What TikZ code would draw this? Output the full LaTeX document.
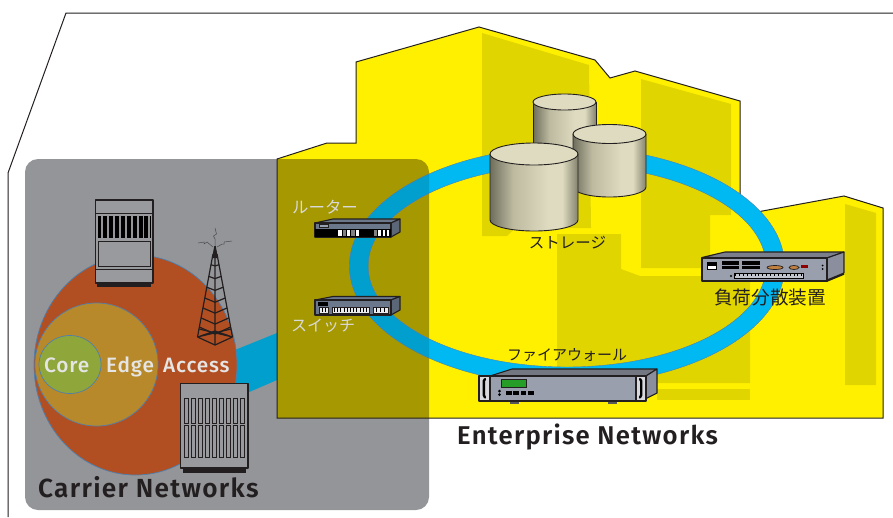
\documentclass[tikz,border=0pt]{standalone}
\usepackage{fontspec}
\newfontfamily\dinbold[LetterSpace=5]{Fira Sans SemiBold}
\newfontfamily\dinmed[LetterSpace=4]{Fira Sans Medium}
\newfontfamily\jp{Noto Sans CJK JP}
\definecolor{ink}{HTML}{231F20}
\definecolor{greybox}{HTML}{939598}
\definecolor{bldg}{HTML}{FFF000}
\definecolor{win}{HTML}{E1D500}
\definecolor{olive}{HTML}{A59800}
\definecolor{ringc}{HTML}{00B9F2}
\definecolor{ringd}{HTML}{009FCE}
\definecolor{edgeb}{HTML}{4F7FAE}
\definecolor{orangec}{HTML}{B24F22}
\definecolor{edgec}{HTML}{B8892A}
\definecolor{corec}{HTML}{8FA63A}
\definecolor{slate}{HTML}{6B788C}
\definecolor{steel}{HTML}{9A9FAE}
\definecolor{paleT}{HTML}{DEDBC0}
\definecolor{cylA}{HTML}{6E6E5C}
\definecolor{cylB}{HTML}{BDBAA0}
\definecolor{cylC}{HTML}{84826E}
\pgfdeclarehorizontalshading{cylshade}{100bp}{color(0bp)=(cylA); color(25bp)=(cylA); color(38bp)=(cylB); color(58bp)=(paleT); color(66bp)=(paleT); color(75bp)=(cylC); color(100bp)=(cylC)}
\tikzset{
  dev/.style={draw=ink,line width=1.1pt,line join=round},
  cyl/.style={draw=ink,line width=0.9pt},
  lightlab/.style={text=white!85!black,inner sep=0pt,font=\jp\fontsize{16.4}{17}\selectfont},
  darklab/.style={text=ink,inner sep=0pt,font=\jp\fontsize{15.5}{16}\selectfont},
  zone/.style={text=white!90!black,inner sep=0pt,anchor=base west,font=\dinmed\fontsize{20.8}{22}\selectfont},
  title/.style={text=ink,inner sep=0pt,anchor=base west,font=\dinbold\fontsize{26.2}{28}\selectfont},
  blob/.style={draw=edgeb,line width=0.7pt}
}
\def\bldgpath{(277,159) -- (327,143) -- (356,143) -- (356,62) -- (479,27) -- (595,60) -- (610,78) -- (635,71) -- (740,101) -- (740,195) -- (757,212) -- (844,196) -- (883,208) -- (883,418) -- (277,418) -- cycle}
\begin{document}
\begin{tikzpicture}[x=1pt,y=-1pt]
\useasboundingbox (0,0) rectangle (893,517);
% outer frame
\draw[ink,line width=1pt] (8,517) -- (8,173) -- (66,13) -- (893,13);
% grey carrier box
\fill[greybox,rounded corners=13pt] (25,159) rectangle (429,510);
% link from the carrier cloud to the enterprise
\fill[ringd] (225,354) -- (277,333) -- (277,380) -- (240,396) -- cycle;
% carrier rings
\filldraw[blob,fill=orangec] (135.5,365) ellipse [x radius=101.5,y radius=110];
\filldraw[blob,fill=edgec] (96.5,364.5) ellipse [x radius=61.5,y radius=61.5];
\filldraw[blob,fill=corec] (70,364.5) ellipse [x radius=31,y radius=29];
% top rack
\fill[ink] (97,283) rectangle (151,286.5);
\filldraw[dev,fill=greybox!95!white] (95.5,200) rectangle (153,283);
\draw[ink,line width=0.9pt] (95.5,213) -- (153,213);
\fill[black] (98,215.5) rectangle (150.5,238);
\foreach \i in {0,...,8} \fill[greybox] ({101.2+5.9*\i},215.5) rectangle ({103.1+5.9*\i},238);
\draw[ink,line width=0.9pt] (98.5,241) rectangle (150,266);
\draw[ink,line width=0.7pt] (96,269) -- (153,269);
% lower rack
\fill[ink] (183,468) rectangle (246,473);
\filldraw[dev,fill=greybox!95!white] (180.5,383.5) rectangle (248,468);
\foreach \i in {0,...,8} {
  \draw[ink,line width=0.9pt] ({184.3+7.08*\i},398.5) rectangle ({188.3+7.08*\i},423);
  \draw[ink,line width=0.9pt] ({184.3+7.08*\i},425) rectangle ({188.3+7.08*\i},457);
}
% radio tower
\draw[gray!60!black,line width=0.5pt] (215,247) -- (215,239) -- (213.5,236) -- (216.5,234) -- (215,228);
\draw[gray!60!black,line width=0.5pt] (213,247) -- (207,242) -- (204,244) -- (204,242) -- (198,243);
\draw[gray!60!black,line width=0.5pt] (217,247) -- (222,244) -- (224,244) -- (224,242) -- (232,241);
\fill[ink] (214.3,246) -- (215.7,246) -- (218,258) -- (212,258) -- cycle;
\draw[ink,line width=1.2pt] (213,254) -- (197.5,337) (217,254) -- (232.5,337) (215,254) -- (215,345);
\foreach \t in {0.13,0.27,0.4,0.53,0.65,0.77,0.88}
  \draw[ink,line width=1.2pt] ({213-15.5*\t},{254+83*\t}) -- (215,{254+83*\t+8*\t}) -- ({217+15.5*\t},{254+83*\t});
\draw[ink,line width=1.2pt] (197.5,337) -- (215,345) -- (232.5,337) (197.5,337) -- (215,331) -- (232.5,337) (199,329) -- (232.5,337) (231,329) -- (197.5,337);
% building
\fill[bldg] \bldgpath;
\begin{scope}
  \clip \bldgpath;
  \fill[win] (482,33) -- (589,65) -- (591,228) -- (515,228) -- (507,236) -- (482,236) -- cycle;
  \fill[win] (641,79) -- (731,104) -- (731,215) -- (710,215) -- (710,268) -- (641,268) -- cycle;
  \fill[win] (557,234) -- (621,234) -- (621,269) -- (640,276) -- (750,276) -- (750,383) -- (557,383) -- cycle;
  \fill[win] (657,389) rectangle (750,400);
  \fill[win] (845,204) -- (876,213) -- (876,385) -- (845,385) -- cycle;
  \fill[olive,rounded corners=13pt] (25,159) rectangle (429,510);
\end{scope}
\draw[ink,line width=1pt,line join=miter] \bldgpath;
% ring
\fill[ringc,even odd rule,draw=edgeb,line width=0.4pt] (567,266) ellipse [x radius=217.5,y radius=119] (567,266) ellipse [x radius=199,y radius=101];
\begin{scope}
  \clip[rounded corners=13pt] (25,159) rectangle (429,510);
  \fill[ringd,even odd rule,draw=edgeb,line width=0.4pt] (567,266) ellipse [x radius=217.5,y radius=119] (567,266) ellipse [x radius=199,y radius=101];
\end{scope}
% router
\filldraw[dev,fill=slate] (315,223) -- (333,219) -- (400,219) -- (391,223) -- cycle;
\filldraw[dev,fill=slate!85!black] (391,223) -- (400,219) -- (400,232) -- (391,237) -- cycle;
\filldraw[dev,fill=slate] (315,223) rectangle (391,237);
\fill[black] (315,229) rectangle (391,237);
\draw[ink,line width=0.5pt,fill=slate!70!white] (319,224) rectangle (328,227);
\foreach \a/\b in {338/342,347/350,356/359,378/381,383/385,387/389} \fill[white] (\a,230) rectangle (\b,236);
\foreach \a/\b in {343/346,351/355,374/377} \fill[gray] (\a,230) rectangle (\b,236);
% switch
\filldraw[dev,fill=slate] (315,300) -- (333,296.5) -- (400,296.5) -- (391,300) -- cycle;
\filldraw[dev,fill=slate!85!black] (391,300) -- (400,296.5) -- (400,310) -- (391,315) -- cycle;
\filldraw[dev,fill=slate] (315,300) rectangle (391,315);
\fill[black] (318,302) rectangle (328,306);
\foreach \a/\b in {319/328,332/369,373/388} \filldraw[fill=white!85!slate,draw=ink,line width=0.6pt] (\a,307) rectangle (\b,313);
\foreach \i in {0,...,10} \fill[black] ({334+3.2*\i},308) rectangle ({335+3.2*\i},311.5);
\foreach \x in {322,325,376,380,384} \fill[black] (\x,308) rectangle (\x+1,312);
% load balancer
\filldraw[dev,fill=steel!80!black] (702,257.5) -- (725,252) -- (844,252) -- (827,258) -- cycle;
\filldraw[dev,fill=steel!90!black] (827,258) -- (844,252) -- (844,273) -- (827,280) -- cycle;
\filldraw[dev,fill=steel] (702,258) rectangle (827,281);
\draw[ink,line width=1.6pt] (702,281) -- (827,281) -- (844,274);
\filldraw[fill=white,draw=black,line width=0.4pt] (707,262) rectangle (716,269);
\fill[black] (707,262) rectangle (716,266);
\foreach \a/\b in {722/739,742/760} {
  \fill[black] (\a,261) rectangle (\b,264.5);
  \fill[black] (\a,265.5) rectangle (\b,269);
}
\filldraw[fill=brown,draw=ink,line width=0.7pt] (775,267.5) ellipse [x radius=8,y radius=2];
\filldraw[fill=brown,draw=ink,line width=0.7pt] (794,267.5) ellipse [x radius=5,y radius=2];
\fill[red!55!black] (801,264.5) rectangle (808,267.5);
\fill[black] (822.5,265.5) circle (1);
\fill[black] (822.5,269) circle (1);
\fill[black] (731,276) circle (1.2);
\filldraw[fill=steel!60!white,draw=black,line width=0.7pt] (734,273) rectangle (803,278);
\foreach \i in {0,...,17} \fill[black] ({735+3.9*\i},273) rectangle ({736+3.9*\i},276);
% firewall
\fill[gray!70!black] (510,401) rectangle (519,403.5);
\fill[gray!70!black] (608,401) rectangle (617,403.5);
\filldraw[dev,fill=steel!75!black] (490,376) -- (512,369) -- (657,369) -- (646,376) -- cycle;
\filldraw[dev,fill=steel!90!black] (646,376) -- (657,369) -- (657,393) -- (646,398.5) -- cycle;
\filldraw[dev,fill=steel] (490,376) rectangle (636,401);
\filldraw[dev,fill=steel!40!white] (479,376) rectangle (490,401);
\filldraw[dev,fill=steel!40!white] (636,376) rectangle (646,401);
\draw[black,line width=2.4pt,line cap=round] (485,379) -- (483.8,381) -- (483.8,395) -- (485,397.5);
\draw[black,line width=2.4pt,line cap=round] (640,379) -- (641.2,381) -- (641.2,395) -- (640,397.5);
\filldraw[fill=green!55!black!85!white,draw=ink,line width=0.8pt] (501,379.5) rectangle (526,387);
\foreach \i in {0,...,3} \fill[black] ({506+7.4*\i},390.5) rectangle ({511.5+7.4*\i},395);
\fill[black] (499.5,391) circle (1.5);
\fill[black] (499.5,394.7) circle (1.5);
% storage
\path[shading=cylshade] (533,102) -- (596,102) -- (596,185) -- (533,185) -- cycle;
\draw[cyl] (533,102) -- (533,185) (596,102) -- (596,185);
\filldraw[cyl,fill=paleT] (564.5,102) ellipse [x radius=31.5,y radius=8];
\path[shading=cylshade] (573,134) -- (573,187) arc [start angle=180,end angle=360,x radius=36.5,y radius=-10] -- (646,134) -- cycle;
\draw[cyl] (573,134) -- (573,187) arc [start angle=180,end angle=360,x radius=36.5,y radius=-10] -- (646,134);
\filldraw[cyl,fill=paleT] (609.5,134) ellipse [x radius=36.5,y radius=9.5];
\path[shading=cylshade] (490,154) -- (490,220) arc [start angle=180,end angle=360,x radius=44,y radius=-11] -- (578,154) -- cycle;
\draw[cyl] (490,154) -- (490,220) arc [start angle=180,end angle=360,x radius=44,y radius=-11] -- (578,154);
\filldraw[cyl,fill=paleT] (534,154) ellipse [x radius=44,y radius=11];
% labels
\node[zone] (core) at (44,372.5) {Core};
\node[zone] (edge) at (106,372.5) {Edge};
\node[zone] (access) at (163,372.5) {Access};
\node[title] (carrier) at (38,497) {Carrier Networks};
\node[title,font=\dinbold\fontsize{25.7}{28}\selectfont] (enterprise) at (457,444) {Enterprise Networks};
\node[lightlab] (router) at (325,207) {ルーター};
\node[lightlab,font=\jp\fontsize{16}{17}\selectfont] (switchl) at (323,326) {スイッチ};
\node[darklab] (storage) at (567.5,243) {ストレージ};
\node[darklab,font=\jp\fontsize{15}{16}\selectfont] (firewall) at (567,355) {ファイアウォール};
\node[darklab,font=\jp\fontsize{18.6}{19}\selectfont] (balancer) at (770,297) {負荷分散装置};
\end{tikzpicture}
\end{document}
